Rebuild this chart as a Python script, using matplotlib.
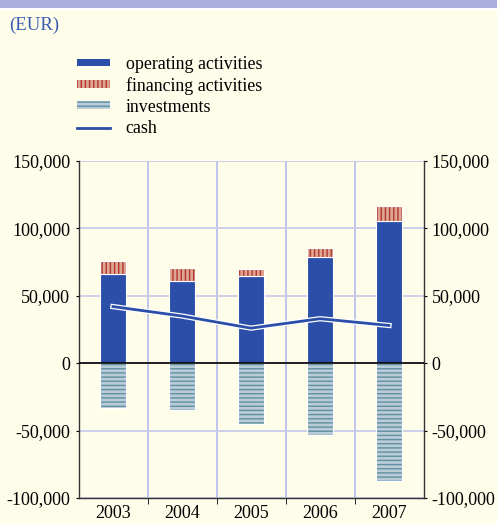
import matplotlib.pyplot as plt
import matplotlib.patheffects as pe
from matplotlib.patches import Patch, Rectangle
from matplotlib.lines import Line2D
from matplotlib.ticker import FixedLocator, FuncFormatter

plt.rcParams['font.family'] = ['Liberation Serif', 'DejaVu Serif']
plt.rcParams['hatch.linewidth'] = 1.0

# data (EUR)
years = ['2003', '2004', '2005', '2006', '2007']
operating = [66500, 61000, 64500, 78500, 105500]
financing = [9500, 9500, 5500, 7000, 11000]
investments = [-33000, -34500, -45000, -53500, -87500]
cash = [42000, 35000, 26000, 33000, 28000]

bg = '#FEFDE9'
blue = '#2B4FA8'
fin_face = '#DCA594'
fin_line = '#B4352A'
inv_face = '#B9CCD8'
inv_line = '#5F90A2'

fig = plt.figure(figsize=(4.97, 5.24), dpi=100, facecolor=bg)
# top band
fig.patches.append(Rectangle((0, 1 - 8 / 524), 1, 8 / 524, transform=fig.transFigure,
                             facecolor='#A9AEDF', edgecolor='none'))
fig.patches.append(Rectangle((0, 1 - 10 / 524), 1, 2 / 524, transform=fig.transFigure,
                             facecolor='white', edgecolor='none'))
fig.text(9 / 497, 1 - 25 / 524, '(EUR)', color='#3A5BB0', fontsize=13.5, va='center', ha='left')

ax = fig.add_axes([78.5 / 497, 26 / 524, 345 / 497, 337 / 524])
ax.set_facecolor(bg)
x = range(len(years))
w = 0.38

ax.bar(x, operating, width=w, color=blue, edgecolor='white', linewidth=0.8, zorder=3)
ax.bar(x, financing, width=w, bottom=operating, color=fin_face, edgecolor=fin_line,
       linewidth=0, hatch='||||', zorder=3)
ax.bar(x, financing, width=w, bottom=operating, color='none', edgecolor='white',
       linewidth=0.8, zorder=3)
ax.bar(x, investments, width=w, color=inv_face, edgecolor=inv_line, linewidth=0,
       hatch='----', zorder=3)
ax.bar(x, investments, width=w, color='none', edgecolor='white', linewidth=0.8, zorder=3)
ax.plot(x, cash, color=blue, lw=2, zorder=4,
        path_effects=[pe.Stroke(linewidth=3.8, foreground='white'), pe.Normal()])

ax.axhline(0, color='black', lw=1.2, zorder=5)

ax.set_xlim(-0.5, len(years) - 0.5)
ax.set_ylim(-100000, 150000)
ax.set_xticks(list(x))
ax.set_xticklabels(years, fontsize=13)
ax.xaxis.set_minor_locator(FixedLocator([i + 0.5 for i in range(len(years) - 1)]))
ax.tick_params(axis='x', which='major', length=0, pad=5)
ax.tick_params(axis='x', which='minor', length=4, direction='out', color='black')
ax.grid(axis='x', which='minor', color='#B4BCEA', lw=1.2, zorder=1)

ax.set_yticks([-100000, -50000, 0, 50000, 100000, 150000])
ax.yaxis.set_major_formatter(FuncFormatter(lambda v, p: f'{int(v):,}'))
ax.grid(axis='y', which='major', color='#C9CCEA', lw=1.3, zorder=1)
ax.tick_params(axis='y', length=2, labelsize=13, pad=4, left=True, right=True,
               labelleft=True, labelright=True)

for s in ['top']:
    ax.spines[s].set_visible(False)
for s in ['left', 'right', 'bottom']:
    ax.spines[s].set_color('#333333')
    ax.spines[s].set_linewidth(1.0)

handles = [
    Patch(facecolor=blue, edgecolor='none', label='operating activities'),
    Patch(facecolor=fin_face, edgecolor=fin_line, hatch='||||', linewidth=0,
          label='financing activities'),
    Patch(facecolor=inv_face, edgecolor=inv_line, hatch='----', linewidth=0,
          label='investments'),
    Line2D([0], [0], color=blue, lw=2, label='cash'),
]
fig.legend(handles=handles, loc='upper left', bbox_to_anchor=(77 / 497, 1 - 56 / 524),
           frameon=False, fontsize=12.9, handlelength=1.85, handleheight=0.3,
           handletextpad=0.87, labelspacing=0.22, borderpad=0, borderaxespad=0)

fig.savefig('out.png', dpi=100, facecolor=bg)
